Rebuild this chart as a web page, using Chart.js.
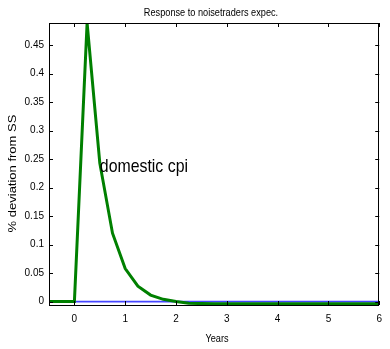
<!DOCTYPE html>
<html><head><meta charset="utf-8">
<script src="https://cdn.jsdelivr.net/npm/chart.js@4.4.1/dist/chart.umd.min.js"></script>
<style>html,body{margin:0;padding:0;background:#fff}canvas{display:block}</style>
</head><body>
<canvas id="c" width="390" height="349"></canvas>
<script>
const chartTitle = 'Response to noisetraders expec.';
const xTitle = 'Years';
const yTitle = '% deviation from SS';
const years = [-0.5,-0.25,0,0.25,0.5,0.75,1,1.25,1.5,1.75,2,2.25,2.5,2.75,3,3.25,3.5,3.75,4,4.25,4.5,4.75,5,5.25,5.5,5.75,6];
const domesticCpi = [0,0,0,0.489,0.243,0.12,0.058,0.027,0.0114,0.004,0,-0.003,-0.0035,-0.004,-0.004,-0.004,-0.004,-0.004,-0.004,-0.004,-0.004,-0.004,-0.004,-0.004,-0.004,-0.004,-0.004];
const zeroLine = [0,0,0,0,0,0,0,0,0,0,0,0,0,0,0,0,0,0,0,0,0,0,0,0,0,0,0];
const xTicks = [0,1,2,3,4,5,6];
const xTickLabels = ['0','1','2','3','4','5','6'];
const yTicks = [0,0.05,0.1,0.15,0.2,0.25,0.3,0.35,0.4,0.45];
const yTickLabels = ['0','0.05','0.1','0.15','0.2','0.25','0.3','0.35','0.4','0.45'];
const xRange = [-0.5, 6];
const yRange = [-0.006, 0.489];
const labelText = 'domestic cpi';
const labelPos = [0.5, 0.227];

const FONT = "'Liberation Sans', Arial, sans-serif";
const SQUEEZE = 0.835;

function squeezedText(ctx, text, x, y, size, align, rotate) {
  ctx.save();
  ctx.font = size + 'px ' + FONT;
  ctx.fillStyle = '#000';
  ctx.translate(x, y);
  ctx.scale(SQUEEZE, 1);
  if (rotate) ctx.rotate(-Math.PI / 2);
  ctx.textAlign = align;
  ctx.textBaseline = rotate ? 'middle' : 'alphabetic';
  ctx.fillText(text, 0, 0);
  ctx.restore();
}

const boxPlugin = {
  id: 'box',
  afterDatasetsDraw(chart) {
    const {ctx, chartArea: a, scales: {x, y}} = chart;
    ctx.save();
    ctx.strokeStyle = '#000';
    ctx.lineWidth = 1;
    ctx.strokeRect(Math.round(a.left)+0.5, Math.round(a.top)+0.5, Math.round(a.right-a.left)-1, Math.round(a.bottom-a.top));
    const tl = 4;
    ctx.beginPath();
    xTicks.forEach(v => {
      const px = Math.round(x.getPixelForValue(v)) + 0.5;
      ctx.moveTo(px, a.bottom); ctx.lineTo(px, a.bottom - tl);
      ctx.moveTo(px, a.top); ctx.lineTo(px, a.top + tl);
    });
    yTicks.forEach(v => {
      const py = Math.round(y.getPixelForValue(v)) + 0.5;
      ctx.moveTo(a.left, py); ctx.lineTo(a.left + tl, py);
      ctx.moveTo(a.right, py); ctx.lineTo(a.right - tl, py);
    });
    ctx.stroke();
    ctx.restore();
    // annotation in data coordinates
    squeezedText(ctx, labelText, x.getPixelForValue(labelPos[0]), y.getPixelForValue(labelPos[1]), 19, 'left', false);
    // titles
    squeezedText(ctx, chartTitle, 211, 15.5, 11, 'center', false);
    squeezedText(ctx, xTitle, 217, 341.5, 11, 'center', false);
    squeezedText(ctx, yTitle, 13.5, 173.5, 13, 'center', true);
  }
};

new Chart(document.getElementById('c'), {
  type: 'line',
  data: {
    datasets: [
      { label: 'domestic cpi', data: years.map((t,i)=>({x:t, y:domesticCpi[i]})), borderColor: 'rgb(0,128,0)', borderWidth: 3, pointRadius: 0, tension: 0, order: 0 },
      { label: 'zero', data: years.map((t,i)=>({x:t, y:zeroLine[i]})), borderColor: 'rgb(70,70,255)', borderWidth: 1.8, pointRadius: 0, tension: 0, order: 1 }
    ]
  },
  options: {
    responsive: false,
    animation: false,
    devicePixelRatio: 1,
    layout: { padding: { left: 0, right: 2, top: 23, bottom: 0 } },
    plugins: {
      legend: { display: false },
      tooltip: { enabled: false },
      title: { display: false }
    },
    scales: {
      x: {
        type: 'linear', min: xRange[0], max: xRange[1],
        afterBuildTicks: s => { s.ticks = xTicks.map(v => ({value: v})); },
        afterFit: s => { s.height = 44; },
        grid: { display: false, drawTicks: false },
        border: { display: false },
        ticks: { padding: 8, color: '#000', font: { family: FONT, size: 10 }, maxRotation: 0, callback: (v) => xTickLabels[xTicks.indexOf(v)] }
      },
      y: {
        type: 'linear', min: yRange[0], max: yRange[1],
        afterBuildTicks: s => { s.ticks = yTicks.map(v => ({value: v})); },
        afterFit: s => { s.width = 49; },
        grid: { display: false, drawTicks: false },
        border: { display: false },
        ticks: { padding: 5, color: '#000', font: { family: FONT, size: 10 }, callback: (v) => yTickLabels[yTicks.indexOf(v)] }
      }
    }
  },
  plugins: [boxPlugin]
});
</script>
</body></html>
